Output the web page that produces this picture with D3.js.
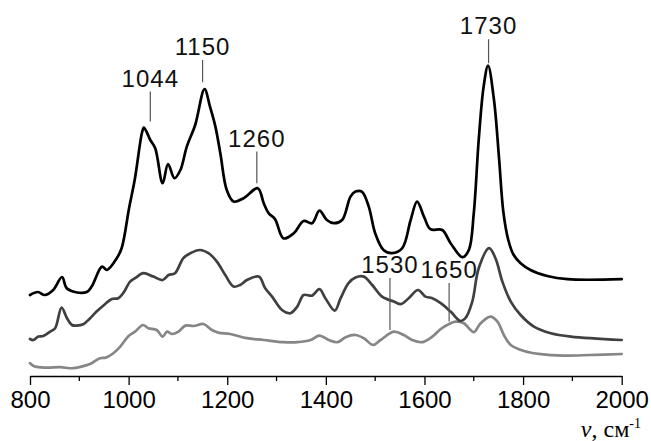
<!DOCTYPE html>
<html>
<head>
<meta charset="utf-8">
<script src="https://cdn.jsdelivr.net/npm/d3@7"></script>
<style>
  html, body { margin: 0; padding: 0; background: #fff; }
  svg { display: block; }
</style>
</head>
<body>
<script>
// IR spectra of three samples, offset vertically (absorbance, arbitrary units)

// Top spectrum (black)
const specAWave = [800, 816, 830, 847, 865, 874, 891, 915, 925, 946, 956, 976, 986, 1001, 1013, 1027, 1031, 1044, 1054, 1069, 1080, 1093, 1105, 1118, 1135, 1154, 1165, 1176, 1186, 1199, 1213, 1233, 1262, 1274, 1284, 1297, 1314, 1335, 1355, 1372, 1387, 1402, 1416, 1433, 1450, 1460, 1473, 1487, 1500, 1517, 1534, 1555, 1572, 1585, 1599, 1612, 1636, 1653, 1677, 1690, 1700, 1710, 1720, 1729, 1741, 1751, 1760, 1770, 1781, 1795, 1815, 1849, 1890, 2000];
const specAAbs = [0.405, 0.42, 0.405, 0.43, 0.495, 0.44, 0.42, 0.42, 0.447, 0.547, 0.53, 0.589, 0.64, 0.84, 0.99, 1.215, 1.242, 1.18, 1.139, 0.964, 1.06, 0.989, 1.03, 1.147, 1.255, 1.434, 1.347, 1.247, 1.114, 0.93, 0.872, 0.889, 0.939, 0.864, 0.814, 0.784, 0.688, 0.714, 0.775, 0.764, 0.827, 0.78, 0.764, 0.78, 0.897, 0.922, 0.922, 0.847, 0.714, 0.63, 0.614, 0.639, 0.78, 0.872, 0.797, 0.734, 0.73, 0.664, 0.594, 0.63, 0.814, 1.18, 1.447, 1.552, 1.38, 1.097, 0.82, 0.68, 0.605, 0.564, 0.53, 0.5, 0.484, 0.484];

// Middle spectrum (dark grey)
const specBWave = [800, 807, 817, 827, 841, 851, 864, 875, 885, 895, 908, 922, 935, 952, 966, 979, 989, 1003, 1013, 1030, 1050, 1069, 1081, 1094, 1111, 1125, 1145, 1162, 1179, 1196, 1213, 1226, 1240, 1264, 1277, 1291, 1311, 1328, 1342, 1355, 1372, 1387, 1399, 1418, 1430, 1446, 1460, 1477, 1494, 1514, 1538, 1553, 1568, 1587, 1602, 1616, 1633, 1653, 1673, 1683, 1697, 1710, 1731, 1744, 1758, 1775, 1795, 1822, 1856, 1897, 2000];
const specBAbs = [0.185, 0.18, 0.197, 0.2, 0.222, 0.239, 0.342, 0.289, 0.255, 0.252, 0.259, 0.289, 0.322, 0.359, 0.385, 0.389, 0.414, 0.472, 0.489, 0.514, 0.497, 0.48, 0.505, 0.514, 0.589, 0.614, 0.63, 0.614, 0.572, 0.505, 0.447, 0.455, 0.48, 0.497, 0.439, 0.397, 0.33, 0.314, 0.347, 0.405, 0.402, 0.434, 0.389, 0.327, 0.389, 0.464, 0.492, 0.497, 0.455, 0.397, 0.372, 0.36, 0.389, 0.43, 0.397, 0.389, 0.364, 0.322, 0.275, 0.289, 0.372, 0.539, 0.639, 0.589, 0.472, 0.372, 0.305, 0.247, 0.214, 0.197, 0.18];

// Bottom spectrum (light grey)
const specCWave = [800, 810, 834, 861, 888, 912, 925, 942, 954, 969, 983, 1000, 1013, 1029, 1040, 1057, 1069, 1078, 1088, 1101, 1115, 1132, 1152, 1169, 1182, 1206, 1240, 1274, 1314, 1342, 1369, 1387, 1406, 1424, 1440, 1460, 1477, 1496, 1511, 1538, 1558, 1575, 1595, 1616, 1633, 1653, 1663, 1680, 1690, 1700, 1714, 1734, 1748, 1761, 1775, 1802, 1836, 1883, 1937, 2000];
const specCAbs = [0.064, 0.047, 0.042, 0.044, 0.039, 0.052, 0.064, 0.089, 0.092, 0.114, 0.147, 0.2, 0.222, 0.255, 0.239, 0.23, 0.197, 0.222, 0.21, 0.222, 0.252, 0.25, 0.26, 0.23, 0.217, 0.21, 0.189, 0.18, 0.169, 0.169, 0.18, 0.202, 0.18, 0.169, 0.194, 0.205, 0.189, 0.155, 0.18, 0.222, 0.205, 0.18, 0.169, 0.197, 0.235, 0.264, 0.272, 0.264, 0.239, 0.219, 0.264, 0.297, 0.272, 0.205, 0.155, 0.125, 0.109, 0.102, 0.105, 0.11];

// Band annotations: wavenumber, leader line from / to (absorbance)
const bandLabels = [1044, 1150, 1260, 1730, 1530, 1650];
const bandLeaderLow = [1.272, 1.469, 0.964, 1.564, 0.23, 0.272];
const bandLeaderHigh = [1.422, 1.58, 1.122, 1.684, 0.49, 0.465];

// Axis ticks
const majorTicks = [800, 1000, 1200, 1400, 1600, 1800, 2000];
const minorTicks = [900, 1100, 1300, 1500, 1700, 1900];

const W = 651, H = 441;
const svg = d3.select("body").append("svg").attr("width", W).attr("height", H);

const x = d3.scaleLinear().domain([800, 2000]).range([30, 621.7]);
const y = d3.scaleLinear().domain([0, 1.88]).range([376, 0]);

const line = d3.line()
  .x(d => x(d[0]))
  .y(d => y(d[1]))
  .curve(d3.curveCatmullRom.alpha(0.5));

const series = [
  { wave: specCWave, abs: specCAbs, color: "#868686" },
  { wave: specBWave, abs: specBAbs, color: "#404040" },
  { wave: specAWave, abs: specAAbs, color: "#000000" }
];

svg.append("g").selectAll("path")
  .data(series)
  .join("path")
  .attr("d", s => line(d3.zip(s.wave, s.abs)))
  .attr("fill", "none")
  .attr("stroke", s => s.color)
  .attr("stroke-width", 2.7)
  .attr("stroke-linejoin", "round")
  .attr("stroke-linecap", "round");

// Band leader lines and labels
const bands = bandLabels.map((v, i) => ({ v, lo: bandLeaderLow[i], hi: bandLeaderHigh[i] }));
const bg = svg.append("g");
bg.selectAll("line")
  .data(bands)
  .join("line")
  .attr("x1", d => x(d.v)).attr("x2", d => x(d.v))
  .attr("y1", d => y(d.lo)).attr("y2", d => y(d.hi))
  .attr("stroke", "#555")
  .attr("stroke-width", 1.2);
bg.selectAll("text")
  .data(bands)
  .join("text")
  .attr("x", d => x(d.v))
  .attr("y", d => y(d.hi) - 5)
  .attr("text-anchor", "middle")
  .attr("font-family", "'Liberation Sans', Arial, sans-serif")
  .attr("font-size", 24)
  .attr("letter-spacing", 1)
  .attr("fill", "#111")
  .text(d => d.v);

// X axis
const axisG = svg.append("g").attr("transform", "translate(0,376)");
axisG.call(
  d3.axisBottom(x).tickValues(majorTicks).tickSize(9).tickSizeOuter(0).tickPadding(6).tickFormat(d3.format("d"))
);
axisG.select(".domain").attr("stroke", "#000").attr("stroke-width", 1.3);
axisG.selectAll(".tick line").attr("stroke", "#000").attr("stroke-width", 1.3);
axisG.selectAll(".tick text")
  .attr("font-family", "'Liberation Sans', Arial, sans-serif")
  .attr("font-size", 24)
  .attr("fill", "#000");
axisG.append("g").selectAll("line")
  .data(minorTicks)
  .join("line")
  .attr("x1", d => x(d)).attr("x2", d => x(d))
  .attr("y1", 0).attr("y2", 5)
  .attr("stroke", "#000").attr("stroke-width", 1.3);

// Axis title
const title = svg.append("text")
  .attr("x", 641)
  .attr("y", 437)
  .attr("text-anchor", "end")
  .attr("font-family", "'Liberation Serif', 'Times New Roman', serif")
  .attr("font-size", 24)
  .attr("fill", "#000");
title.append("tspan").attr("font-style", "italic").text("ν");
title.append("tspan").text(", см");
title.append("tspan").attr("font-size", 14).attr("dy", -9).text("-1");
</script>
</body>
</html>
